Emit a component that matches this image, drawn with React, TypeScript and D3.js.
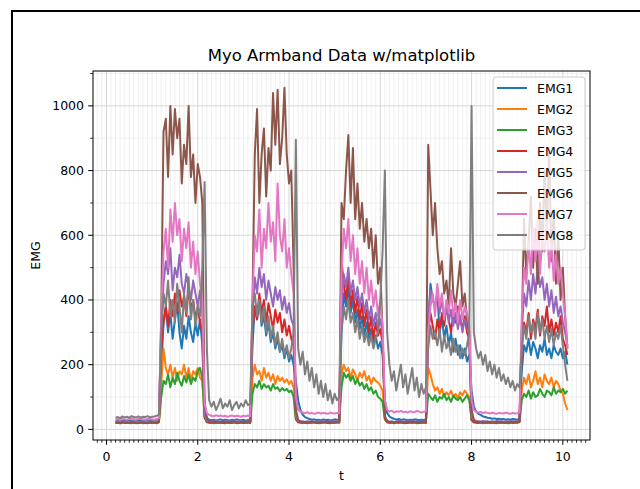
import React from 'react';
import * as d3 from 'd3';

const SERIES_NAMES = ['EMG1', 'EMG2', 'EMG3', 'EMG4', 'EMG5', 'EMG6', 'EMG7', 'EMG8'];
const COLORS = ['#1f77b4', '#ff7f0e', '#2ca02c', '#d62728', '#9467bd', '#8c564b', '#e377c2', '#7f7f7f'];

// start time of each recording phase (rest / contraction), samples every DT seconds
const PHASE_START = [0.2, 1.2, 2.15, 3.2, 4.15, 5.15, 6.1, 7.05, 8.0, 9.1];
const DT = 0.05;

const EMG1 = [
  [27,28,26,29,27,28,30,27,26,28,29,27,28,30,28,27,29,28,30,32],
  [180,330,380,300,360,280,340,390,300,250,320,280,350,300,270,330,290,340,260],
  [60,35,30,28,30,27,29,31,28,30,29,27,30,28,31,29,28,30,27,29,30],
  [260,380,340,400,320,350,290,330,270,300,250,280,240,260,220,250,210,230,200],
  [150,90,60,45,38,35,32,30,31,29,30,28,31,29,30,28,29,31,30,29],
  [300,420,380,440,360,400,330,370,310,350,290,330,280,310,260,290,250,270,230],
  [90,50,40,35,33,30,32,29,31,30,28,30,29,31,30,28,30,29,31],
  [320,450,400,380,420,300,350,280,320,260,300,240,280,230,260,220,250,210,230],
  [120,70,55,48,45,40,38,36,35,33,34,32,33,31,32,30,31,30,32,31,30,33],
  [180,260,240,280,230,270,250,220,260,240,280,230,250,220,260,240,230,250,220,240,200],
];
const EMG2 = [
  [22,23,21,24,22,23,22,24,23,22,21,23,24,22,23,22,24,23,22,25],
  [140,250,190,170,200,160,190,150,180,170,200,160,190,150,180,170,190,160,150],
  [40,25,22,21,23,22,24,21,22,23,21,22,24,22,21,23,22,21,23,22,24],
  [160,200,170,180,150,190,160,175,150,170,140,165,150,160,145,155,140,150,130],
  [40,25,22,23,21,24,22,23,21,22,24,23,21,22,23,24,22,21,23,22],
  [170,200,180,190,160,185,170,150,175,160,180,150,165,140,160,150,145,135,120],
  [35,24,22,23,21,22,24,23,22,21,23,22,24,22,23,21,22,23,24],
  [190,170,140,120,130,110,125,100,115,105,120,100,110,95,115,105,120,110,100],
  [30,24,22,21,23,22,24,21,23,22,21,23,22,24,21,22,23,22,24,21,23,25],
  [120,160,140,170,130,150,180,140,160,130,170,150,140,160,130,150,140,120,110,80,60],
];
const EMG3 = [
  [20,21,19,22,20,21,20,19,21,22,20,21,19,20,22,21,20,21,19,22],
  [100,150,140,170,130,160,140,175,150,135,165,145,170,140,160,150,180,190,160],
  [35,22,20,21,19,20,22,21,20,19,21,20,22,21,19,20,21,22,20,21,19],
  [110,140,130,150,125,140,130,135,120,140,125,130,118,128,120,125,115,120,100],
  [30,22,21,20,22,19,21,20,22,21,19,20,21,22,20,19,21,20,22,21],
  [130,175,160,170,150,165,140,155,135,145,125,140,120,130,110,120,100,95,85],
  [30,22,20,21,19,22,20,21,20,19,21,22,20,21,19,20,22,21,20],
  [110,100,90,105,85,100,95,110,90,100,85,105,95,90,100,85,95,105,90],
  [28,22,21,20,22,19,21,20,22,21,20,19,21,22,20,21,19,20,22,21,20,22],
  [90,110,100,120,95,115,100,105,125,110,100,120,115,105,130,110,120,115,125,110,120],
];
const EMG4 = [
  [21,22,20,23,21,22,21,23,22,20,22,21,23,22,21,22,20,23,21,24],
  [250,330,380,320,400,350,420,360,430,380,410,350,440,370,400,340,380,330,300],
  [40,24,22,21,23,22,20,22,21,23,22,21,20,22,23,21,22,20,21,22,23],
  [300,380,340,420,360,400,330,390,350,310,370,330,360,300,340,290,320,280,260],
  [35,23,21,22,20,22,21,23,22,20,21,22,23,21,20,22,21,23,22,21],
  [520,450,400,480,380,430,360,410,340,390,320,370,300,350,280,330,290,310,270],
  [35,22,21,23,20,22,21,22,23,21,20,22,21,23,22,20,21,22,21],
  [300,360,320,280,340,300,360,320,380,340,300,360,330,380,340,310,350,300,280],
  [30,22,21,20,22,23,21,22,20,21,23,22,21,20,22,21,23,22,20,21,22,24],
  [250,330,300,360,280,340,310,370,290,350,320,380,300,340,290,330,300,350,280,260,230],
];
const EMG5 = [
  [23,24,22,25,23,24,23,22,24,25,23,22,24,23,25,24,22,23,24,25],
  [300,450,520,480,560,430,500,470,540,450,420,480,440,400,460,420,380,430,360],
  [45,28,25,24,26,24,25,23,24,26,25,24,23,25,24,26,25,23,24,25,24],
  [350,470,420,500,440,480,400,460,420,380,440,400,430,370,410,360,390,340,320],
  [40,26,24,25,23,25,24,26,24,23,25,24,26,24,23,25,24,26,25,24],
  [380,480,440,500,420,460,400,440,380,420,360,400,340,380,320,360,310,340,300],
  [40,26,24,25,23,24,26,25,24,23,25,24,26,25,24,23,25,24,26],
  [350,430,400,380,420,360,400,340,380,330,370,320,360,310,350,300,340,320,290],
  [40,28,26,25,24,26,25,24,23,25,24,26,25,24,23,25,24,26,25,24,25,26],
  [300,420,380,460,400,480,420,500,440,470,400,450,380,430,360,410,350,380,330,300,260],
];
const EMG6 = [
  [20,21,19,22,20,21,20,22,21,19,20,22,21,20,19,21,22,20,21,23],
  [350,920,960,780,1000,850,990,900,960,760,880,820,1000,780,850,700,820,780,700],
  [80,35,25,22,24,23,21,22,24,23,21,22,23,24,22,21,23,22,24,23,22],
  [400,850,990,700,850,930,720,870,800,1040,880,1050,820,900,1056,850,760,800,500],
  [60,30,24,22,23,21,22,24,23,22,21,23,22,24,23,21,22,23,22,24],
  [700,650,800,910,700,870,650,760,620,700,580,650,560,620,500,600,450,500,300],
  [40,25,22,23,21,22,24,23,22,21,23,22,24,23,22,21,23,22,24],
  [880,740,600,700,560,480,520,420,460,380,560,420,380,450,520,380,420,340,300],
  [60,30,24,22,23,21,22,24,23,22,21,23,22,24,23,21,22,23,22,24,23,25],
  [300,650,480,580,720,500,620,450,700,550,800,600,870,520,680,450,600,400,500,350,250],
];
const EMG7 = [
  [30,32,29,33,31,30,32,34,31,30,33,32,31,30,32,33,31,30,32,34],
  [350,550,620,500,680,580,700,600,650,520,620,560,640,500,580,480,550,450,400],
  [80,50,45,42,40,44,41,43,40,42,39,41,43,40,42,41,39,42,40,43,41],
  [400,600,550,680,500,620,560,700,580,640,520,760,600,550,650,500,560,480,420],
  [100,60,55,52,50,53,49,51,48,50,52,49,51,50,48,52,50,49,51,50],
  [480,620,560,650,520,600,480,560,450,520,420,500,400,460,380,430,350,400,320],
  [90,60,55,58,52,56,54,57,53,55,52,56,54,53,57,55,52,54,56],
  [300,380,420,350,450,380,420,340,400,360,430,350,390,330,400,340,380,360,320],
  [90,60,55,52,54,50,53,51,49,52,50,48,51,50,49,52,50,48,51,49,50,52],
  [350,500,450,580,480,620,520,650,480,600,550,640,500,580,460,540,450,500,420,350,250],
];
const EMG8 = [
  [36,38,35,40,37,39,36,41,38,37,40,36,39,38,41,37,39,40,42,45],
  [300,420,380,460,350,400,330,450,380,300,420,360,470,340,400,320,380,350,500],
  [765,250,90,70,85,60,75,95,65,80,70,90,60,75,85,65,80,70,90,75,80],
  [380,420,350,400,330,380,300,350,280,320,260,300,240,280,230,260,220,250,300],
  [895,250,200,240,170,210,150,190,130,170,110,150,100,140,90,120,80,110,90,100],
  [300,380,340,400,330,360,300,340,280,320,270,300,260,290,250,280,300,400,550],
  [800,300,200,150,180,120,160,200,130,170,110,150,190,120,160,100,140,110,130],
  [250,320,280,300,260,310,240,290,250,270,230,280,240,260,220,250,230,260,300],
  [1000,300,250,220,240,200,230,180,210,170,200,160,190,150,170,140,160,130,150,120,140,130],
  [250,320,280,350,300,330,280,360,300,340,280,320,270,310,260,300,280,320,260,200,150],
];

const X_TICKS = [0, 2, 4, 6, 8, 10];
const Y_TICKS = [0, 200, 400, 600, 800, 1000];
const X_MINOR_STEP = 0.1;
const Y_MINOR_STEP = 100;

const TITLE = 'Myo Armband Data w/matplotlib';
const X_LABEL = 't';
const Y_LABEL = 'EMG';

type Pt = { t: number; v: number };

function toPoints(phases: number[][]): Pt[] {
  const pts: Pt[] = [];
  phases.forEach((vals, k) => {
    vals.forEach((v, j) => pts.push({ t: PHASE_START[k] + j * DT, v }));
  });
  return pts;
}

const ALL = [EMG1, EMG2, EMG3, EMG4, EMG5, EMG6, EMG7, EMG8].map(toPoints);

export default function App() {
  const W = 640, H = 489;
  const L = 93, R = 590, T = 71, B = 440;
  const font = 'DejaVu Sans, sans-serif';

  const tExt = d3.extent(ALL.flat(), d => d.t) as [number, number];
  const vExt = d3.extent(ALL.flat(), d => d.v) as [number, number];
  const tPad = (tExt[1] - tExt[0]) * 0.05;
  const vPad = (vExt[1] - vExt[0]) * 0.05;

  const x = d3.scaleLinear().domain([tExt[0] - tPad, tExt[1] + tPad]).range([L, R]);
  const y = d3.scaleLinear().domain([vExt[0] - vPad, vExt[1] + vPad]).range([B, T]);

  const [x0, x1] = x.domain();
  const [y0, y1] = y.domain();
  const xMinor = d3.range(Math.ceil(x0 / X_MINOR_STEP), Math.floor(x1 / X_MINOR_STEP) + 1)
    .map(i => +(i * X_MINOR_STEP).toFixed(3))
    .filter(v => !X_TICKS.includes(v));
  const yMinor = d3.range(Math.ceil(y0 / Y_MINOR_STEP), Math.floor(y1 / Y_MINOR_STEP) + 1)
    .map(i => i * Y_MINOR_STEP)
    .filter(v => !Y_TICKS.includes(v));

  const line = d3.line<Pt>().x(d => x(d.t)).y(d => y(d.v));

  const legX = 493, legY = 77, legW = 92, legH = 173;
  const rowH = 21;

  return (
    <svg width={W} height={H} style={{ position: 'absolute', left: 0, top: 0, background: '#fff' }}
      fontFamily={font}>
      <rect x={0} y={0} width={W} height={H} fill="#fff" />
      <rect x={12} y={11} width={W + 20} height={H + 20} fill="#fff" stroke="#000" strokeWidth={2} />

      {/* grid */}
      <g>
        {xMinor.map(v => (
          <line key={'gxm' + v} x1={x(v)} x2={x(v)} y1={T} y2={B} stroke="#ebebeb" strokeWidth={0.8} />
        ))}
        {yMinor.map(v => (
          <line key={'gym' + v} x1={L} x2={R} y1={y(v)} y2={y(v)} stroke="#ebebeb" strokeWidth={0.8} />
        ))}
        {X_TICKS.map(v => (
          <line key={'gx' + v} x1={x(v)} x2={x(v)} y1={T} y2={B} stroke="#d6d6d6" strokeWidth={1} />
        ))}
        {Y_TICKS.map(v => (
          <line key={'gy' + v} x1={L} x2={R} y1={y(v)} y2={y(v)} stroke="#d6d6d6" strokeWidth={1} />
        ))}
      </g>

      {/* data */}
      <g>
        {ALL.map((pts, i) => (
          <path key={SERIES_NAMES[i]} d={line(pts) || ''} fill="none" stroke={COLORS[i]}
            strokeWidth={2} strokeLinejoin="round" />
        ))}
      </g>

      {/* spines */}
      <rect x={L} y={T} width={R - L} height={B - T} fill="none" stroke="#000" strokeWidth={1} />

      {/* x ticks */}
      <g>
        {xMinor.map(v => (
          <line key={'xm' + v} x1={x(v)} x2={x(v)} y1={B} y2={B + 2.8} stroke="#000" strokeWidth={0.8} />
        ))}
        {X_TICKS.map(v => (
          <g key={'xt' + v}>
            <line x1={x(v)} x2={x(v)} y1={B} y2={B + 4.8} stroke="#000" strokeWidth={1} />
            <text x={x(v)} y={461} textAnchor="middle" fontSize={12.5} fill="#000">{v}</text>
          </g>
        ))}
      </g>

      {/* y ticks */}
      <g>
        {yMinor.map(v => (
          <line key={'ym' + v} x1={L - 2.8} x2={L} y1={y(v)} y2={y(v)} stroke="#000" strokeWidth={0.8} />
        ))}
        {Y_TICKS.map(v => (
          <g key={'yt' + v}>
            <line x1={L - 4.8} x2={L} y1={y(v)} y2={y(v)} stroke="#000" strokeWidth={1} />
            <text x={84} y={y(v)} dy="0.36em" textAnchor="end" fontSize={12.5} fill="#000">{v}</text>
          </g>
        ))}
      </g>

      {/* labels */}
      <text x={(L + R) / 2} y={61} textAnchor="middle" fontSize={16.5} fill="#000">{TITLE}</text>
      <text x={(L + R) / 2} y={480} textAnchor="middle" fontSize={12.5} fill="#000">{X_LABEL}</text>
      <text transform={`translate(40, ${(T + B) / 2}) rotate(-90)`} textAnchor="middle" fontSize={12.5}
        fill="#000">{Y_LABEL}</text>

      {/* legend */}
      <g>
        <rect x={legX} y={legY} width={legW} height={legH} rx={3} ry={3} fill="#fff" fillOpacity={0.8}
          stroke="#cccccc" strokeWidth={1} />
        {SERIES_NAMES.map((name, i) => {
          const cy = legY + 11 + i * rowH;
          return (
            <g key={'leg' + name}>
              <line x1={legX + 4} x2={legX + 34} y1={cy} y2={cy} stroke={COLORS[i]} strokeWidth={2} />
              <text x={legX + 44} y={cy} dy="0.36em" fontSize={12.5} fill="#000">{name}</text>
            </g>
          );
        })}
      </g>
    </svg>
  );
}
